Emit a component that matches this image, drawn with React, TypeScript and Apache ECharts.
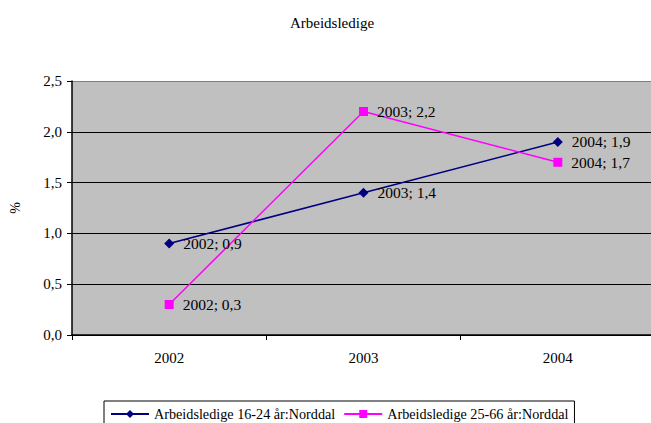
import React, { useEffect, useRef } from "react";
import * as echarts from "echarts";

const categories = ["2002", "2003", "2004"];
const youthValues = [0.9, 1.4, 1.9];
const adultValues = [0.3, 2.2, 1.7];
const seriesNames = ["Arbeidsledige 16-24 år:Norddal", "Arbeidsledige 25-66 år:Norddal"];
const titleText = "Arbeidsledige";
const yAxisName = "%";

const FONT = "Liberation Serif";
const fmt = (v: number) => v.toFixed(1).replace(".", ",");

export default function App() {
  const ref = useRef<HTMLDivElement>(null);
  useEffect(() => {
    if (!ref.current) return;
    const chart = echarts.init(ref.current, undefined, { renderer: "svg" });
    const labelCfg = {
      show: true,
      position: "right" as const,
      distance: 9,
      fontFamily: FONT,
      fontSize: 15.5,
      color: "#000",
      formatter: (p: any) => `${p.name}; ${fmt(p.value)}`,
    };
    chart.setOption({
      animation: false,
      backgroundColor: "#fff",
      textStyle: { fontFamily: FONT },
      title: {
        text: titleText,
        left: 327,
        textAlign: "center",
        top: 10,
        textStyle: { fontFamily: FONT, fontSize: 15, fontWeight: "normal", color: "#000" },
      },
      legend: {
        bottom: -12,
        left: 104,
        borderColor: "#000",
        borderWidth: 1,
        padding: [6, 6, 14, 6],
        itemWidth: 38,
        itemHeight: 10,
        itemGap: 8,
        textStyle: { fontFamily: FONT, fontSize: 14.2, color: "#000" },
        data: seriesNames,
      },
      grid: {
        left: 67,
        top: 81,
        right: 0,
        bottom: 88,
        show: true,
        backgroundColor: "#C0C0C0",
        borderWidth: 0,
      },
      xAxis: {
        type: "category",
        data: categories,
        boundaryGap: true,
        axisLine: { lineStyle: { color: "#000", width: 1.5 } },
        axisTick: { show: true, length: 5, lineStyle: { color: "#000" } },
        axisLabel: { fontFamily: FONT, fontSize: 15, color: "#000", margin: 15 },
      },
      yAxis: {
        type: "value",
        min: 0,
        max: 2.5,
        interval: 0.5,
        name: yAxisName,
        nameLocation: "middle",
        nameGap: 50,
        nameRotate: 90,
        nameTextStyle: { fontFamily: FONT, fontSize: 14, color: "#000" },
        axisLine: { show: true, lineStyle: { color: "#000", width: 1.5 } },
        axisTick: { show: true, length: 5, lineStyle: { color: "#000" } },
        axisLabel: { fontFamily: FONT, fontSize: 15, color: "#000", margin: 10, formatter: (v: number) => fmt(v) },
        splitLine: {
          show: true,
          lineStyle: { color: ["#000", "#000", "#000", "#000", "#000", "#808080"], width: 1 },
        },
      },
      series: [
        {
          name: seriesNames[0],
          type: "line",
          data: youthValues,
          symbol: "diamond",
          symbolSize: 10,
          itemStyle: { color: "#000080" },
          lineStyle: { color: "#000080", width: 1.5 },
          label: labelCfg,
        },
        {
          name: seriesNames[1],
          type: "line",
          data: adultValues,
          symbol: "rect",
          symbolSize: 9,
          itemStyle: { color: "#FF00FF" },
          lineStyle: { color: "#FF00FF", width: 1.5 },
          label: labelCfg,
        },
      ],
    });
    return () => chart.dispose();
  }, []);
  return (
    <div
      ref={ref}
      style={{ position: "fixed", left: 0, top: 0, width: 655, height: 423 }}
    />
  );
}
